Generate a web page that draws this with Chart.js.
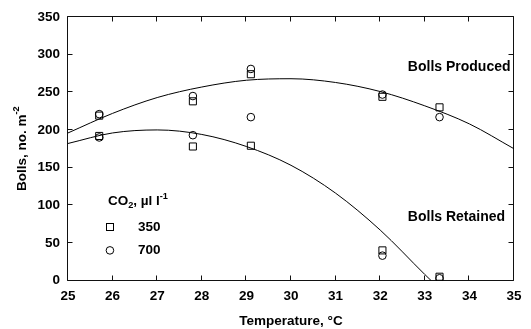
<!DOCTYPE html>
<html>
<head>
<meta charset="utf-8">
<script src="https://cdn.jsdelivr.net/npm/chart.js@4/dist/chart.umd.min.js"></script>
<style>
  html, body { margin: 0; padding: 0; background: #fff; }
  #c { display: block; }
</style>
</head>
<body>
<canvas id="c" width="531" height="329"></canvas>
<script>
// Boll counts per square metre at each growth temperature
const temperatures     = [25.7, 27.8, 29.1, 32.05, 33.33];
const producedCO2_350  = [219, 238, 274, 244, 230];
const producedCO2_700  = [221, 245, 281, 247, 217];
const retainedCO2_350  = [192, 178, 179, 40, 5];
const retainedCO2_700  = [190, 193, 217, 33, 3];

// Fitted response curves, sampled along their length
const producedFitT = [25, 26, 27, 28, 29, 30, 31, 32, 33, 34, 35];
const producedFitY = [196, 222, 243, 257, 266, 268, 263, 251, 232, 208, 175];
const retainedFitT = [25, 26, 27, 28, 29, 30, 31, 32, 33, 33.14];
const retainedFitY = [182, 196, 200, 194, 178, 153, 116, 67, 8, 0];

// Axis ticks
const xTickValues = [25, 26, 27, 28, 29, 30, 31, 32, 33, 34, 35];
const yTickValues = [0, 50, 100, 150, 200, 250, 300, 350];

// Legend and curve labels
const legendTitle  = [{ t: 'CO' }, { t: '2', sub: true }, { t: ', \u00b5l l' }, { t: '-1', sup: true }];
const legendLabels = ['350', '700'];
const curveLabels  = ['Bolls Produced', 'Bolls Retained'];
const xTitle = 'Temperature, \u00b0C';
const yTitle = [{ t: 'Bolls, no. m' }, { t: '-2', sup: true }];

const FONT = '"Liberation Sans", Arial, Helvetica, sans-serif';

const pts = (xs, ys) => xs.map((x, i) => ({ x, y: ys[i] }));

// Text made of normal, superscript and subscript runs
function richWidth(ctx, parts, size) {
  let w = 0;
  for (const p of parts) {
    const s = (p.sup || p.sub) ? size * 0.68 : size;
    ctx.font = `bold ${s}px ${FONT}`;
    w += ctx.measureText(p.t).width;
  }
  return w;
}
function drawRich(ctx, parts, x, y, size, align) {
  ctx.save();
  ctx.textBaseline = 'middle';
  ctx.textAlign = 'left';
  ctx.fillStyle = '#000';
  let cx = x;
  if (align === 'center') cx = x - richWidth(ctx, parts, size) / 2;
  for (const p of parts) {
    const s = (p.sup || p.sub) ? size * 0.68 : size;
    ctx.font = `bold ${s}px ${FONT}`;
    let dy = 0;
    if (p.sup) dy = -size * 0.38;
    if (p.sub) dy = size * 0.3;
    ctx.fillText(p.t, cx, y + dy);
    cx += ctx.measureText(p.t).width;
  }
  ctx.restore();
}

// Boxed frame with inward ticks on all four sides, plus titles and labels
const framePlugin = {
  id: 'frame',
  beforeDatasetsDraw(chart) {
    const { ctx, chartArea: a, scales } = chart;
    const L = Math.round(a.left) - 0.5;
    const R = Math.round(a.right) - 0.5;
    const T = Math.round(a.top) - 0.5;
    const B = Math.floor(a.bottom) + 0.5;
    const tl = 5;
    ctx.save();
    ctx.strokeStyle = '#111';
    ctx.lineWidth = 1;
    ctx.beginPath();
    ctx.rect(L, T, R - L, B - T);
    for (const v of xTickValues) {
      const px = Math.round(scales.x.getPixelForValue(v)) - 0.5;
      ctx.moveTo(px, B); ctx.lineTo(px, B - tl);
      ctx.moveTo(px, T); ctx.lineTo(px, T + tl);
    }
    for (const v of yTickValues) {
      const py = Math.round(scales.y.getPixelForValue(v)) - 0.5;
      ctx.moveTo(L, py); ctx.lineTo(L + tl, py);
      ctx.moveTo(R, py); ctx.lineTo(R - tl, py);
    }
    ctx.stroke();
    ctx.restore();
  },
  afterDraw(chart) {
    const { ctx, scales } = chart;
    const x = scales.x, y = scales.y;

    // y axis title
    ctx.save();
    ctx.translate(22, (chart.chartArea.top + chart.chartArea.bottom) / 2);
    ctx.rotate(-Math.PI / 2);
    drawRich(ctx, yTitle, 0, 0, 13.5, 'center');
    ctx.restore();

    // curve labels
    ctx.save();
    ctx.font = `bold 14px ${FONT}`;
    ctx.fillStyle = '#000';
    ctx.textBaseline = 'middle';
    ctx.fillText(curveLabels[0], x.getPixelForValue(32.62), y.getPixelForValue(283));
    ctx.fillText(curveLabels[1], x.getPixelForValue(32.62), y.getPixelForValue(84));
    ctx.restore();

    // legend
    const lx = x.getPixelForValue(25.94);
    drawRich(ctx, legendTitle, lx - 2, y.getPixelForValue(105), 13.5, 'left');
    const rowY = [y.getPixelForValue(71), y.getPixelForValue(40)];
    ctx.save();
    ctx.strokeStyle = '#000';
    ctx.lineWidth = 1;
    ctx.strokeRect(Math.round(lx) - 3.5, Math.round(rowY[0]) - 3.5, 7, 7);
    ctx.beginPath();
    ctx.arc(lx, rowY[1], 3.8, 0, Math.PI * 2);
    ctx.stroke();
    ctx.font = `bold 13.5px ${FONT}`;
    ctx.fillStyle = '#000';
    ctx.textBaseline = 'middle';
    ctx.fillText(legendLabels[0], lx + 28, rowY[0]);
    ctx.fillText(legendLabels[1], lx + 28, rowY[1]);
    ctx.restore();
  }
};

const lineStyle = { showLine: true, borderColor: '#000', borderWidth: 1, pointRadius: 0,
                    cubicInterpolationMode: 'monotone', fill: false };
const squareStyle = { pointStyle: 'rect', pointRadius: 5, borderColor: '#000', borderWidth: 1,
                      backgroundColor: 'rgba(0,0,0,0)', showLine: false };
const circleStyle = { pointStyle: 'circle', pointRadius: 3.8, borderColor: '#000', borderWidth: 1,
                      backgroundColor: 'rgba(0,0,0,0)', showLine: false };

new Chart(document.getElementById('c'), {
  type: 'scatter',
  data: {
    datasets: [
      { label: 'Bolls produced fit', data: pts(producedFitT, producedFitY), ...lineStyle },
      { label: 'Bolls retained fit', data: pts(retainedFitT, retainedFitY), ...lineStyle },
      { label: 'Produced 350', data: pts(temperatures, producedCO2_350), ...squareStyle },
      { label: 'Produced 700', data: pts(temperatures, producedCO2_700), ...circleStyle },
      { label: 'Retained 350', data: pts(temperatures, retainedCO2_350), ...squareStyle },
      { label: 'Retained 700', data: pts(temperatures, retainedCO2_700), ...circleStyle }
    ]
  },
  options: {
    responsive: false,
    animation: false,
    devicePixelRatio: 1,
    layout: { padding: { left: 0, right: 17, top: 17, bottom: 0 } },
    plugins: { legend: { display: false }, tooltip: { enabled: false } },
    scales: {
      x: {
        type: 'linear', min: 25, max: 35,
        afterFit: s => { s.height = 48.5; },
        afterBuildTicks: s => { s.ticks = xTickValues.map(v => ({ value: v })); },
        grid: { display: false, drawTicks: false },
        border: { display: false },
        ticks: { color: '#000', padding: 8, maxRotation: 0, autoSkip: false,
                 font: { family: FONT, size: 13.5, weight: 'bold' } },
        title: { display: true, text: xTitle, color: '#000', padding: { top: 0, bottom: 0 },
                 font: { family: FONT, size: 13.5, weight: 'bold' } }
      },
      y: {
        type: 'linear', min: 0, max: 350,
        afterFit: s => { s.width = 68; },
        afterBuildTicks: s => { s.ticks = yTickValues.map(v => ({ value: v })); },
        grid: { display: false, drawTicks: false },
        border: { display: false },
        ticks: { color: '#000', padding: 8, autoSkip: false,
                 font: { family: FONT, size: 13.5, weight: 'bold' } }
      }
    }
  },
  plugins: [framePlugin]
});
</script>
</body>
</html>
